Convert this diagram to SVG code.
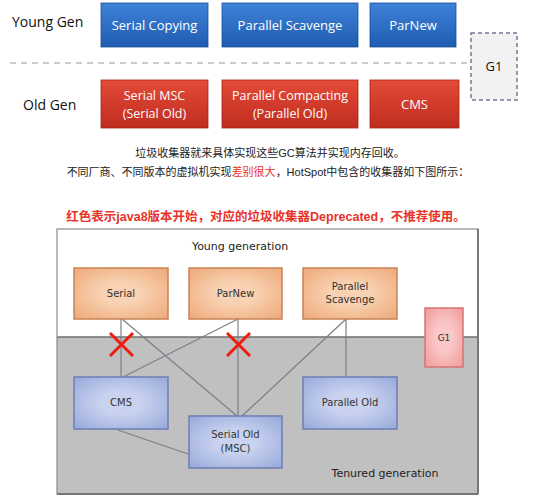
<svg xmlns="http://www.w3.org/2000/svg" width="547" height="500" viewBox="0 0 547 500">
<defs>
<linearGradient id="gBlue" x1="0" y1="0" x2="0" y2="1"><stop offset="0" stop-color="#3f82d9"/><stop offset="1" stop-color="#1e5cb0"/></linearGradient>
<linearGradient id="gRed" x1="0" y1="0" x2="0" y2="1"><stop offset="0" stop-color="#e44a38"/><stop offset="1" stop-color="#bf2d1f"/></linearGradient>
<radialGradient id="gOr" cx="0.5" cy="0.5" r="0.7"><stop offset="0.3" stop-color="#f8d2b2"/><stop offset="1" stop-color="#eea878"/></radialGradient>
<radialGradient id="gBl" cx="0.5" cy="0.5" r="0.7"><stop offset="0.3" stop-color="#c9d3f0"/><stop offset="1" stop-color="#97a8da"/></radialGradient>
<radialGradient id="gPk" cx="0.5" cy="0.5" r="0.7"><stop offset="0.3" stop-color="#fbc8c8"/><stop offset="1" stop-color="#f09a9a"/></radialGradient>
<style>
.top{font-family:"Open Sans","Noto Sans","Liberation Sans",sans-serif;font-size:13px;fill:#fff;text-anchor:middle}
.top2{font-family:"Open Sans","Noto Sans","Liberation Sans",sans-serif;font-size:12.5px;fill:#fff;text-anchor:middle}
.lab{font-family:"Open Sans","Noto Sans","Liberation Sans",sans-serif;font-size:14px;fill:#111}
.cn{font-family:"Liberation Sans","Noto Sans CJK SC",sans-serif;font-size:11px;fill:#222;text-anchor:middle}
.hand{font-family:"DejaVu Sans","Noto Sans",sans-serif;font-size:10px;fill:#333;text-anchor:middle}
.conn line{stroke:#7b7f88;stroke-width:1.2}
.x line{stroke:#f01c10;stroke-width:3}
.ob{fill:url(#gOr);stroke:#c68455;stroke-width:1.5}
.bb{fill:url(#gBl);stroke:#6d7db3;stroke-width:1.5}
</style>
</defs>
<rect width="547" height="500" fill="#ffffff"/>
<!-- top section -->
<text class="lab" x="12" y="27">Young Gen</text>
<text class="lab" x="23" y="110">Old Gen</text>
<line x1="10" y1="63" x2="470" y2="63" stroke="#bbbbbb" stroke-width="1.5" stroke-dasharray="6,5"/>
<g id="serial-copying"><rect x="101" y="3" width="107" height="44" fill="url(#gBlue)" stroke="#1b4f96" stroke-width="0.8"/><text class="top" x="154.5" y="30">Serial Copying</text></g>
<g id="parallel-scavenge-top"><rect x="222" y="3" width="136" height="44" fill="url(#gBlue)" stroke="#1b4f96" stroke-width="0.8"/><text class="top" x="290" y="30">Parallel Scavenge</text></g>
<g id="parnew-top"><rect x="370" y="3" width="86" height="44" fill="url(#gBlue)" stroke="#1b4f96" stroke-width="0.8"/><text class="top" x="413" y="30">ParNew</text></g>
<g id="serial-msc"><rect x="101" y="80" width="107" height="48" fill="url(#gRed)" stroke="#a02418" stroke-width="0.8"/><text class="top2" x="154.5" y="100">Serial MSC</text><text class="top2" x="154.5" y="118">(Serial Old)</text></g>
<g id="parallel-compacting"><rect x="222" y="80" width="136" height="48" fill="url(#gRed)" stroke="#a02418" stroke-width="0.8"/><text class="top2" x="290" y="100">Parallel Compacting</text><text class="top2" x="290" y="118">(Parallel Old)</text></g>
<g id="cms-top"><rect x="370" y="80" width="89" height="48" fill="url(#gRed)" stroke="#a02418" stroke-width="0.8"/><text class="top" x="414.5" y="109">CMS</text></g>
<g id="g1-top"><rect x="471" y="33" width="46" height="67" fill="#f2f2f2" stroke="#7d7199" stroke-width="1.5" stroke-dasharray="4,3"/><text class="top" x="494" y="71" style="fill:#111">G1</text></g>
<!-- captions -->
<text class="cn" x="270" y="157">垃圾收集器就来具体实现这些GC算法并实现内存回收。</text>
<text class="cn" x="268" y="176">不同厂商、不同版本的虚拟机实现<tspan fill="#e8322a">差别很大</tspan>，HotSpot中包含的收集器如下图所示：</text>
<text x="266" y="221" style="font-family:'Liberation Sans','Noto Sans CJK SC',sans-serif;font-size:12.5px;font-weight:bold;fill:#e8322a;text-anchor:middle">红色表示java8版本开始，对应的垃圾收集器Deprecated，不推荐使用。</text>
<!-- lower diagram -->
<rect x="57" y="229" width="421" height="108" fill="#ffffff"/>
<rect x="57" y="337" width="421" height="157" fill="#c0c0c0"/>
<line x1="57" y1="337" x2="478" y2="337" stroke="#6f6f6f" stroke-width="1.5"/>
<rect x="57" y="229" width="421" height="265" fill="none" stroke="#8a8a8a" stroke-width="1.2"/>
<line x1="478" y1="229" x2="478" y2="494" stroke="#777" stroke-width="2"/>
<line x1="57" y1="494" x2="478" y2="494" stroke="#777" stroke-width="2"/>
<text class="hand" x="240" y="250" style="font-size:11px;fill:#222">Young generation</text>
<text class="hand" x="385" y="477" style="font-size:11px;fill:#222">Tenured generation</text>
<g class="conn">
<line x1="121" y1="319" x2="121" y2="377"/>
<line x1="122" y1="319" x2="237" y2="416"/>
<line x1="238" y1="319" x2="123" y2="377"/>
<line x1="238" y1="319" x2="238" y2="416"/>
<line x1="346" y1="319" x2="346" y2="377"/>
<line x1="346" y1="319" x2="242" y2="416"/>
<line x1="118" y1="430" x2="188" y2="454"/>
</g>
<g id="serial"><rect class="ob" x="74" y="268" width="94" height="51"/><text class="hand" x="121" y="297">Serial</text></g>
<g id="parnew"><rect class="ob" x="189" y="268" width="93" height="51"/><text class="hand" x="235.5" y="297">ParNew</text></g>
<g id="parallel-scavenge"><rect class="ob" x="303" y="268" width="94" height="51"/><text class="hand" x="350" y="290">Parallel</text><text class="hand" x="350" y="303">Scavenge</text></g>
<g id="g1"><rect x="425" y="308" width="38" height="59" fill="url(#gPk)" stroke="#d47474" stroke-width="1.5"/><text class="hand" x="444" y="341" style="font-size:9px">G1</text></g>
<g id="cms"><rect class="bb" x="74" y="377" width="94" height="52"/><text class="hand" x="121" y="406">CMS</text></g>
<g id="serial-old"><rect class="bb" x="189" y="416" width="93" height="52"/><text class="hand" x="235.5" y="438">Serial Old</text><text class="hand" x="235.5" y="452">(MSC)</text></g>
<g id="parallel-old"><rect class="bb" x="303" y="377" width="94" height="52"/><text class="hand" x="350" y="406">Parallel Old</text></g>
<g class="x">
<line x1="110" y1="333" x2="133" y2="356"/><line x1="133" y1="333" x2="110" y2="356"/>
<line x1="227" y1="333" x2="250" y2="356"/><line x1="250" y1="333" x2="227" y2="356"/>
</g>
</svg>
